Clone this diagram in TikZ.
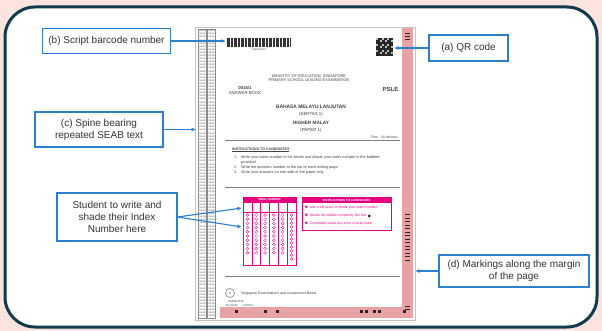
\documentclass[tikz,border=0pt]{standalone}
\usepackage{fontspec}
\setmainfont{Liberation Sans}
\usetikzlibrary{arrows.meta}
\definecolor{bgpink}{HTML}{FCE4DE}
\definecolor{frame}{HTML}{0F3B4C}
\definecolor{callout}{HTML}{2A7FCF}
\definecolor{margin}{HTML}{E8A2A4}
\definecolor{seab}{HTML}{E6007E}
\definecolor{paper}{HTML}{C4C4C4}

\begin{document}
\begin{tikzpicture}[x=1pt, y=-1pt,
        callbox/.style = {draw=callout, line width=1.3pt, fill=white, align=center, text=black!80, inner sep=0pt, font=\fontsize{10}{12}\selectfont},
        pointer/.style = {callout, line width=1.1pt, -{Latex[length=4.5pt,width=4pt]}},
        tiny/.style = {inner sep=0pt, text=black!75},
        tickmark/.style = {fill=black!85},
        bubble/.style = {draw=seab, line width=0.3pt}]
        \useasboundingbox (0,0) rectangle (602,331);
        \fill[bgpink] (0,0) rectangle (602,331);
        \draw[frame, line width=3pt, fill=white, rounded corners=30pt] (5,7) rectangle (597,327);

        % answer book page
        \draw[paper, line width=0.8pt, fill=white] (195,27) rectangle (415,320);
        \draw[black!45, line width=0.3pt] (198.5,29) rectangle (206.5,318);
        \draw[black!45, line width=0.3pt] (207.5,29) rectangle (215.5,318);
        \foreach \y in {31,34.1,...,317}
        {
                \node[tiny, font=\fontsize{2.3}{2.5}\selectfont, text=black!65] at (202.5,\y) {SEAB};
                \node[tiny, font=\fontsize{2.3}{2.5}\selectfont, text=black!65] at (211.5,\y) {SEAB};
        }
        \fill[margin] (402,28) rectangle (413,318);
        \fill[margin] (220,307) rectangle (413,318);
        \foreach \y in {33,36,39,214,217.5,...,262,306,309}
                \fill[tickmark] (405,\y) rectangle (409.5,\y+1.3);
        \foreach \x in {236,265,277,361,366,374,379,404}
                \fill[tickmark] (\x-1.5,310.2) rectangle (\x+1.5,313.2);

        % barcode and QR code
        \foreach \x in {227,228.4,...,290}
                \draw[black!80, line width=0.7pt] (\x,38) -- (\x,47);
        \node[tiny, font=\fontsize{2.4}{3}\selectfont] (barno) at (259,49.5) {*1160000001*};
        \fill[black!25] (376,38) rectangle (393,56);
        \foreach \i in {0,...,8}
                \foreach \j in {0,...,8}
                {
                        \pgfmathtruncatemacro{\on}{mod(\i*7+\j*5+\i*\j,3)>0}
                        \ifnum\on=1
                                \fill[black!85] (376+\i*1.89,38+\j*2) rectangle (377.89+\i*1.89,40+\j*2);
                        \fi
                }

        % cover text
        \node[tiny, font=\fontsize{3.9}{4.4}\selectfont, align=center] (moe) at (309,78) {MINISTRY OF EDUCATION, SINGAPORE\\PRIMARY SCHOOL LEAVING EXAMINATION};
        \node[tiny, font=\fontsize{4.3}{5}\selectfont, align=center] (code) at (245,90) {\textbf{0016/1}\\ANSWER BOOK};
        \node[tiny, font=\fontsize{6}{6}\selectfont] (psle) at (390.5,89.5) {\textbf{PSLE}};
        \node[tiny, font=\fontsize{4.9}{5}\selectfont] (subj) at (311,107) {\textbf{BAHASA MELAYU LANJUTAN}};
        \node[tiny, font=\fontsize{4.4}{5}\selectfont] (kertas) at (311,114) {(KERTAS 1)};
        \node[tiny, font=\fontsize{4.7}{5}\selectfont] (higher) at (311,122.5) {\textbf{HIGHER MALAY}};
        \node[tiny, font=\fontsize{4.4}{5}\selectfont] (paper) at (311,130) {(PAPER 1)};
        \node[tiny, font=\fontsize{3.4}{4}\selectfont, anchor=east] (time) at (398,137) {Time : 30 minutes};
        \draw[black!50, line width=0.6pt] (225,140) -- (400,140);
        \node[tiny, font=\fontsize{3.6}{4}\selectfont, anchor=west] (instr) at (232,150) {\textbf{\underline{INSTRUCTIONS TO CANDIDATES}}};
        \node[tiny, font=\fontsize{3.8}{4}\selectfont, anchor=west] (step1) at (234,158) {1.\quad Write your index number in the boxes and shade your index number in the bubbles};
        \node[tiny, font=\fontsize{3.8}{4}\selectfont, anchor=west] (step1b) at (241,162.5) {provided.};
        \node[tiny, font=\fontsize{3.8}{4}\selectfont, anchor=west] (step2) at (234,167.5) {2.\quad Write the question number at the top of each writing page.};
        \node[tiny, font=\fontsize{3.8}{4}\selectfont, anchor=west] (step3) at (234,172.5) {3.\quad Write your answers on one side of the paper only.};
        \draw[black!50, line width=0.6pt] (225,187) -- (400,187);

        % index number grid
        \draw[seab, line width=0.5pt] (243,197) rectangle (296,265);
        \fill[seab] (243,197) rectangle (296,203);
        \node[tiny, font=\fontsize{2.9}{3}\selectfont, text=white] (idxhead) at (269.5,200) {\textbf{INDEX NUMBER}};
        \draw[seab, line width=0.4pt] (243,212) -- (296,212);
        \foreach \c in {1,...,5}
                \draw[seab, line width=0.4pt] (243+\c*8.83,203) -- (243+\c*8.83,265);
        \foreach \c in {0,...,4}
                \foreach \r in {0,...,9}
                        \draw[bubble] (247.4+\c*8.83,215+\r*4.2) circle (1.5);
        \foreach \r in {0,...,11}
                \draw[bubble] (291.6,215+\r*4) circle (1.5);

        % instructions box
        \draw[seab, line width=0.5pt] (302,197) rectangle (391,230);
        \fill[seab] (302,197) rectangle (391,203);
        \node[tiny, font=\fontsize{3}{3}\selectfont, text=white] (boxhead) at (346.5,200) {\textbf{INSTRUCTIONS TO CANDIDATES}};
        \node[tiny, font=\fontsize{3.4}{4}\selectfont, text=seab, anchor=west] (tip1) at (304.5,208) {$\bullet$\enspace Use a 2B pencil to shade your index number.};
        \node[tiny, font=\fontsize{3.4}{4}\selectfont, text=seab, anchor=west] (tip2) at (304.5,216) {$\bullet$\enspace Shade the bubble completely like this};
        \fill[black] (tip2.east) ++(2.8,0) circle (1.4);
        \node[tiny, font=\fontsize{3.4}{4}\selectfont, text=seab, anchor=west] (tip3) at (304.5,223.5) {$\bullet$\enspace Completely erase any error or stray mark.};
        \draw[black!50, line width=0.6pt] (225,276) -- (400,276);

        % board footer
        \draw[black!55, line width=0.5pt] (230,293) circle (4.5);
        \node[tiny, font=\fontsize{3}{3}\selectfont] (logo) at (230,293) {S};
        \node[tiny, font=\fontsize{3.5}{4}\selectfont, anchor=west] (board) at (241,294) {Singapore Examinations and Assessment Board};
        \node[tiny, font=\fontsize{2.8}{3}\selectfont, anchor=west] (moec) at (228,301.5) {\copyright MOE 2020};
        \node[tiny, font=\fontsize{2.8}{3}\selectfont, anchor=west] (bx) at (226,305.5) {Bx 0x000\quad\quad 000000};

        % callouts
        \coordinate (barcode) at (226,41);
        \coordinate (spine) at (196,129.5);
        \coordinate (idxtop) at (242,208);
        \coordinate (idxbub) at (242,227);
        \coordinate (qr) at (394,48);
        \coordinate (edge) at (415,271);
        \node[callbox, minimum width=128pt, minimum height=25pt] (lb) at (106.5,41) {(b) Script barcode number};
        \node[callbox, minimum width=128pt, minimum height=35pt] (lc) at (99,129.5) {(c) Spine bearing\\repeated SEAB text};
        \node[callbox, minimum width=120pt, minimum height=48pt] (ls) at (117,217) {Student to write and\\shade their Index\\Number here};
        \node[callbox, minimum width=79pt, minimum height=26pt] (la) at (468.5,48) {(a) QR code};
        \node[callbox, minimum width=150pt, minimum height=32pt] (ld) at (514,271) {(d) Markings along the margin\\of the page};
        \draw[pointer] (lb.east) -- (barcode);
        \draw[pointer] (lc.east) -- (spine);
        \draw[pointer] (ls.east) -- (idxtop);
        \draw[pointer] (ls.east) -- (idxbub);
        \draw[pointer] (la.west) -- (qr);
        \draw[pointer] (ld.west) -- (edge);
\end{tikzpicture}
\end{document}
